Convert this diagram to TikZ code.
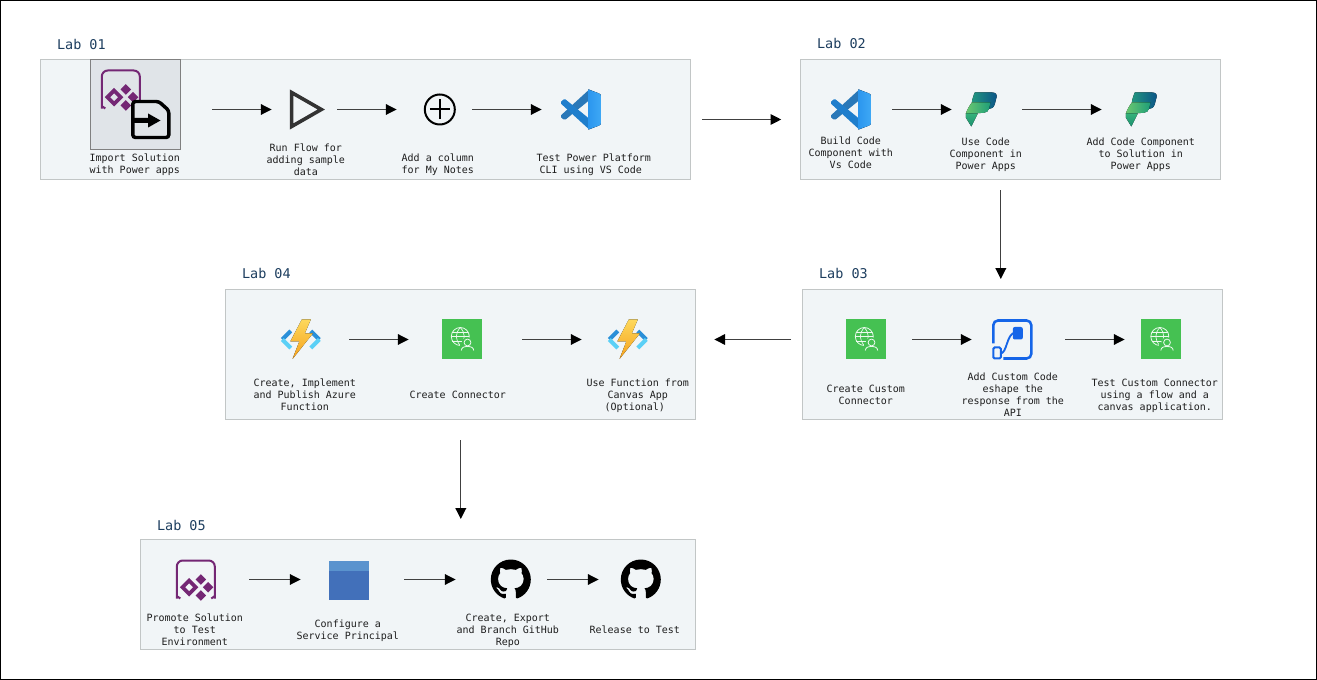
\documentclass[tikz,border=0pt]{standalone}
\usepackage{fontspec}
\setmonofont{DejaVu Sans Mono}
\usetikzlibrary{arrows.meta,svg.path}
\definecolor{panelbg}{HTML}{F1F5F7}
\definecolor{panelline}{HTML}{C2C6C6}
\definecolor{graybg}{HTML}{E0E4E8}
\definecolor{grayline}{HTML}{808080}
\definecolor{labcol}{HTML}{1C3D5E}
\definecolor{txtcol}{HTML}{1E1E1E}
\definecolor{papps}{HTML}{742774}
\definecolor{greenbox}{HTML}{45C152}
\definecolor{flowblue}{HTML}{1565E8}
\definecolor{vsa}{HTML}{2A78B8}
\definecolor{vsb}{HTML}{1F7ECC}
\definecolor{vsc}{HTML}{2B96EE}
\definecolor{vsd}{HTML}{3EA8F5}
\definecolor{fna}{HTML}{2A8FD8}
\definecolor{fnb}{HTML}{5BD0F6}
\definecolor{fnc}{HTML}{FDD85C}
\definecolor{fnd}{HTML}{F6A11B}
\definecolor{ppa}{HTML}{22967F}
\definecolor{ppb}{HTML}{0B5488}
\definecolor{ppc}{HTML}{6CC870}
\definecolor{ppd}{HTML}{1E9E78}
\definecolor{ppe}{HTML}{35B27A}
\definecolor{ppf}{HTML}{1B8F70}
\definecolor{spa}{HTML}{4270BA}
\definecolor{spb}{HTML}{5A93CE}
\def\u{0.75pt}
\tikzset{
  x=0.75pt,y=-0.75pt,
  labbox/.style={draw=panelline,fill=panelbg,line width=0.9pt,inner sep=0pt},
  iconbox/.style={inner sep=0pt,minimum size=30pt},
  arr/.style={draw=black!75,line width=0.75pt,-{Triangle[length=8pt,width=8pt,color=black,fill=black]}},
  steptext/.style={font=\ttfamily\fontsize{7.5}{9}\selectfont,align=center,inner sep=0pt,text=txtcol},
  labtext/.style={font=\ttfamily\fontsize{10.1}{12}\selectfont,anchor=west,inner sep=0pt,text=labcol},
  pics/vscodeicon/.style={code={
    \fill[vsa] (8.4,-20) -- (-19.6,5.6) -- (-19.6,8) -- (-17.2,10) -- (-15.2,10) -- (8.4,-9.2) -- (20,-9.2) -- (20,-15) -- cycle;
    \fill[vsb] (8.4,20) -- (-19.6,-5.6) -- (-19.6,-8) -- (-17.2,-10) -- (-15.2,-10) -- (8.4,9.2) -- (20,9.2) -- (20,15) -- cycle;
    \fill[left color=vsc,right color=vsd] (7.4,-20) -- (18.4,-16) -- (20,-14) -- (20,14) -- (18.4,16) -- (7.4,20) -- cycle;
  }},
  pics/bolticon/.style={code={
    \draw[line width=3pt,color=fna] (-18.5,0) -- (-10,-8.5);
    \draw[line width=3pt,color=fnb] (-18.5,0) -- (-10,8.5);
    \draw[line width=3pt,color=fna] (18.5,0) -- (10,-8.5);
    \draw[line width=3pt,color=fnb] (18.5,0) -- (10,8.5);
    \fill[top color=fnc,bottom color=fnd] (1,-20) -- (10,-20) -- (4,-6) -- (12,-6) -- (-8.3,19.5) -- (-1.5,2) -- (-10.5,2) -- cycle;
  }},
  pics/pagesicon/.style={code={
    \fill[left color=ppa,right color=ppb] (-6,-17) -- (11.5,-17) .. controls (15,-17) and (16.5,-15) .. (15.7,-12) -- (14,-5.5) .. controls (13,-2) and (11,-0.5) .. (8,-0.5) -- (-1,-0.5) -- (-1,-7) -- (-9,-7) .. controls (-8.5,-10) and (-7.5,-14) .. (-6,-17) -- cycle;
    \fill[left color=ppc,right color=ppd] (-9,-7) -- (9.5,-7) -- (8.5,-1.5) .. controls (7.8,1.5) and (6,3.3) .. (3,3.3) -- (-15,4.5) .. controls (-14,0) and (-11,-4) .. (-9,-7) -- cycle;
    \fill[top color=ppe,bottom color=ppf] (-15,4) -- (-3,4) -- (-9.5,17) -- (-15,8) -- cycle;
  }},
  pics/greenicon/.style={code={
    \fill[greenbox] (-20,-20) rectangle (20,20);
    \draw[color=white!90!greenbox,line width=0.6pt] (-1.5,-3) circle (9);
    \draw[color=white!90!greenbox,line width=0.5pt] (-10.5,-3) -- (7.5,-3) (-9.4,-7.5) -- (6.4,-7.5) (-9.4,1.5) -- (6.4,1.5);
    \draw[color=white!90!greenbox,line width=0.5pt] (-1.5,-12) .. controls (-6.8,-6) and (-6.8,0) .. (-1.5,6) .. controls (3.8,0) and (3.8,-6) .. (-1.5,-12);
    \fill[greenbox] (5.7,3.5) circle (5.8);
    \fill[greenbox] (-2,11.5) rectangle (13,4);
    \draw[color=white!90!greenbox,line width=0.6pt] (5.7,3) circle (3.4);
    \draw[color=white!90!greenbox,line width=0.6pt] (-0.5,11) .. controls (-0.3,7.8) and (2.5,7) .. (5.7,7) .. controls (9,7) and (11.7,7.8) .. (11.9,11);
  }},
  pics/flowicon/.style={code={
    \draw[color=flowblue,line width=1.9pt,rounded corners=3.5pt] (-19,4) -- (-19,-19) -- (19,-19) -- (19,19) -- (-9,19);
    \draw[color=flowblue,line width=1.4pt] (-12,14) .. controls (-5,14) and (-6,-6) .. (3,-7);
    \fill[panelbg,draw=flowblue,line width=1.5pt,rounded corners=1pt] (-19,8) rectangle (-11.5,19);
    \fill[flowblue,rounded corners=1.5pt] (0.5,-12.5) rectangle (10.5,0);
  }},
  pics/appsicon/.style={code={
    \draw[color=papps,line width=1.5pt,rounded corners=4.5pt] (-15.5,19) .. controls (-18,17.5) and (-19,15.5) .. (-19,13) -- (-19,-19) -- (19,-19) -- (19,13) .. controls (19,15.5) and (18,17.5) .. (15.5,19);
    \fill[papps,even odd rule] (-6.7,-1.6) -- (2.6,7.7) -- (-6.7,17) -- (-16,7.7) -- cycle (-6.7,3.7) -- (-2.7,7.7) -- (-6.7,11.7) -- (-10.7,7.7) -- cycle;
    \fill[papps] (5,-5.3) -- (10.3,0) -- (5,5.3) -- (-0.3,0) -- cycle;
    \fill[papps] (12.3,2.4) -- (17.6,7.7) -- (12.3,13) -- (7,7.7) -- cycle;
    \fill[papps] (5,10.7) -- (10.3,16) -- (5,21.3) -- (-0.3,16) -- cycle;
  }},
  pics/fileicon/.style={code={
    \draw[fill=graybg,draw=black,line width=2.6pt,rounded corners=2pt] (-18,-18) -- (8,-18) -- (18,-9) -- (18,18) -- (-18,18) -- cycle;
    \fill[black] (-18.5,-1.5) -- (-2.7,-1.5) -- (-2.7,-6) -- (9.7,1) -- (-2.7,8) -- (-2.7,3.5) -- (-18.5,3.5) -- cycle;
  }},
  pics/playicon/.style={code={
    \draw[color=black!80,line width=2.7pt,miter limit=10] (-14.2,-17) -- (15.5,0) -- (-14.2,17) -- cycle;
  }},
  pics/plusicon/.style={code={
    \draw[color=black,line width=1.5pt] (0,0) circle (15);
    \draw[color=black,line width=1.5pt] (-10,0) -- (10,0) (0,-10) -- (0,10);
  }},
  pics/spicon/.style={code={
    \fill[spa] (-20,-19) rectangle (20,20);
    \fill[spb] (-20,-19) rectangle (20,-9);
  }},
  pics/giticon/.style={code={
    \fill[black,shift={(-20,-20)},xscale=1.875,yscale=-1.875] (0,0) svg {M 8 0 C 3.58 0 0 3.58 0 8 c 0 3.54 2.29 6.53 5.47 7.59 c .4 .07 .55 -.17 .55 -.38 c 0 -.19 -.01 -.82 -.01 -1.49 c -2.01 .37 -2.53 -.49 -2.69 -.94 c -.09 -.23 -.48 -.94 -.82 -1.13 c -.28 -.15 -.68 -.52 -.01 -.53 c .63 -.01 1.08 .58 1.23 .82 c .72 1.21 1.87 .87 2.33 .66 c .07 -.52 .28 -.87 .51 -1.07 c -1.78 -.2 -3.64 -.89 -3.64 -3.95 c 0 -.87 .31 -1.59 .82 -2.15 c -.08 -.2 -.36 -1.02 .08 -2.12 c 0 0 .67 -.21 2.2 .82 c .64 -.18 1.32 -.27 2 -.27 c .68 0 1.36 .09 2 .27 c 1.53 -1.04 2.2 -.82 2.2 -.82 c .44 1.1 .16 1.92 .08 2.12 c .51 .56 .82 1.27 .82 2.15 c 0 3.07 -1.87 3.75 -3.65 3.95 c .29 .25 .54 .73 .54 1.48 c 0 1.07 -.01 1.93 -.01 2.2 c 0 .21 .15 .46 .55 .38 C 13.71 14.53 16 11.54 16 8 C 16 3.58 12.42 0 8 0 z};
  }},
}
\newcommand{\linkh}[4]{\draw[arr] (#1.east) ++(#2,0) -- ([shift={(#4,0)}]#3.west);}
\begin{document}
\begin{tikzpicture}
\useasboundingbox (0,0) rectangle (1317,680);
\draw[black,line width=0.75pt] (0.5,0.5) rectangle (1316.5,679.5);

\begin{scope}[shift={(-0.2,0.5)}]
% panels
\node[labbox,minimum width=650*\u,minimum height=120*\u] (box1) at (366,119) {};
\node[labbox,minimum width=420*\u,minimum height=120*\u] (box2) at (1011,119) {};
\node[labbox,minimum width=420*\u,minimum height=130*\u] (box3) at (1013,354) {};
\node[labbox,minimum width=470*\u,minimum height=130*\u] (box4) at (461,354) {};
\node[labbox,minimum width=555*\u,minimum height=110*\u] (box5) at (418.5,594) {};

% lab titles
\node[labtext] (lab1) at (57,44) {Lab 01};
\node[labtext] (lab2) at (817,43) {Lab 02};
\node[labtext] (lab3) at (819,273) {Lab 03};
\node[labtext] (lab4) at (242,273) {Lab 04};
\node[labtext] (lab5) at (157,525) {Lab 05};

% Lab 01 icons
\node[draw=grayline,fill=graybg,line width=0.75pt,inner sep=0pt,minimum size=90*\u] (n11) at (136,104) {};
\pic at (121,89) {appsicon};
\pic at (151,119) {fileicon};
\node[iconbox] (n12) at (306,109) {}; \pic at (n12) {playicon};
\node[iconbox] (n13) at (440,109) {}; \pic at (n13) {plusicon};
\node[iconbox] (n14) at (581,109) {}; \pic at (n14) {vscodeicon};
% Lab 02 icons
\node[iconbox] (n21) at (851,109) {}; \pic at (n21) {vscodeicon};
\node[iconbox] (n22) at (981,109) {}; \pic at (n22) {pagesicon};
\node[iconbox] (n23) at (1141,109) {}; \pic at (n23) {pagesicon};
% Lab 03 icons
\node[iconbox] (n31) at (866,339) {}; \pic at (n31) {greenicon};
\node[iconbox] (n32) at (1012.5,339) {}; \pic at (n32) {flowicon};
\node[iconbox] (n33) at (1161.5,339) {}; \pic at (n33) {greenicon};
% Lab 04 icons
\node[iconbox] (n41) at (301,339) {}; \pic at (n41) {bolticon};
\node[iconbox] (n42) at (462,339) {}; \pic at (n42) {greenicon};
\node[iconbox] (n43) at (628,339) {}; \pic at (n43) {bolticon};
% Lab 05 icons
\node[iconbox] (n51) at (196,579) {}; \pic at (n51) {appsicon};
\node[iconbox] (n52) at (349,579) {}; \pic at (n52) {spicon};
\node[iconbox] (n53) at (511,579) {}; \pic at (n53) {giticon};
\node[iconbox] (n54) at (641,579) {}; \pic at (n54) {giticon};

% step texts
\node[steptext] (t11) at (135,164.5) {Import Solution\\with Power apps};
\node[steptext] (t12) at (306,159) {Run Flow for\\adding sample\\data};
\node[steptext] (t13) at (438,164.5) {Add a column\\for My Notes};
\node[steptext] (t14) at (594,164.5) {Test Power Platform\\CLI using VS Code\hspace*{4.5pt}};
\node[steptext] (t21) at (851,152.5) {Build Code\\Component with\\Vs Code};
\node[steptext] (t22) at (986,154.5) {Use Code\\Component in\\Power Apps};
\node[steptext] (t23) at (1141,154.5) {Add Code Component\\to Solution in\\Power Apps};
\node[steptext] (t31) at (866,394) {Create Custom\\Connector};
\node[steptext] (t32) at (1013,394.5) {Add Custom Code\\eshape the\\response from the\\API};
\node[steptext] (t33) at (1155,395) {Test Custom Connector\\using a flow and a\\canvas application.};
\node[steptext] (t41) at (305,394) {Create, Implement\\and Publish Azure\\Function};
\node[steptext] (t42) at (458,394) {Create Connector};
\node[steptext] (t43) at (638,395) {Use Function from\\Canvas App\\(Optional)\hspace*{4.5pt}};
\node[steptext] (t51) at (195,629) {Promote Solution\\to Test\\Environment};
\node[steptext] (t52) at (348,630) {Configure a\\Service Principal};
\node[steptext] (t53) at (508,630) {Create, Export\\and Branch GitHub\\Repo};
\node[steptext] (t54) at (635,629) {Release to Test};

% connectors
\draw[arr] (n11.east) ++(31,5) -- ([shift={(-14,0)}]n12.west);
\linkh{n12}{11}{n13}{-23}
\linkh{n13}{12}{n14}{-19}
\linkh{box1}{11}{box2}{-19}
\linkh{n21}{21}{n22}{-9}
\linkh{n22}{21}{n23}{-19}
\draw[arr] (box2.south) ++(-10,10) -- ([shift={(-12,-10)}]box3.north);
\linkh{n31}{26}{n32}{-20.5}
\linkh{n32}{32.5}{n33}{-16.5}
\draw[arr] (box3.west) ++(-11,-15) -- ([shift={(18,-15)}]box4.east);
\linkh{n41}{28}{n42}{-33}
\linkh{n42}{40}{n43}{-26}
\draw[arr] (box4.south) ++(0,20) -- ([shift={(42.5,-20)}]box5.north);
\linkh{n51}{33}{n52}{-28}
\linkh{n52}{35}{n53}{-35}
\linkh{n53}{16}{n54}{-22}
\end{scope}
\end{tikzpicture}
\end{document}
